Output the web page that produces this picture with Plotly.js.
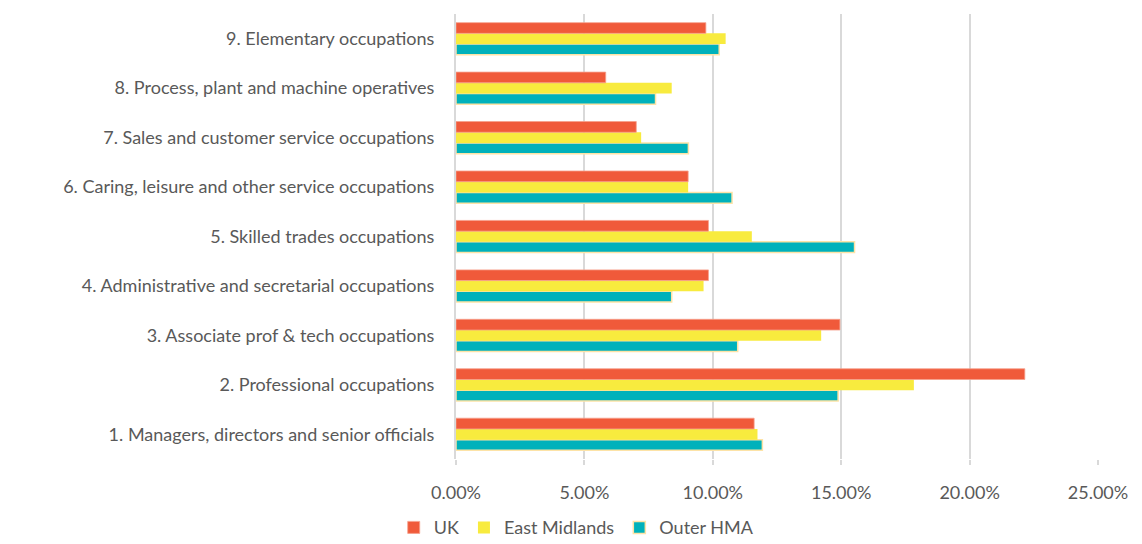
<!DOCTYPE html>
<html>
<head>
<meta charset="utf-8">
<script src="https://cdn.plot.ly/plotly-3.0.1.min.js"></script>
<style>html,body{margin:0;padding:0;background:#fff;}#chart{width:1142px;height:544px;}</style>
</head>
<body>
<div id="chart"></div>
<script>
const categories = [
  "1. Managers, directors and senior officials",
  "2. Professional occupations",
  "3. Associate prof & tech occupations",
  "4. Administrative and secretarial occupations",
  "5. Skilled trades occupations",
  "6. Caring, leisure and other service occupations",
  "7. Sales and customer service occupations",
  "8. Process, plant and machine operatives",
  "9. Elementary occupations"
];
const ukValues = [0.1161, 0.2215, 0.1495, 0.0983, 0.0983, 0.0904, 0.0702, 0.0583, 0.0973];
const eastMidlandsValues = [0.1174, 0.1783, 0.1422, 0.0964, 0.1152, 0.0904, 0.0721, 0.0840, 0.1050];
const outerHmaValues = [0.1193, 0.1488, 0.1097, 0.0840, 0.1552, 0.1075, 0.0905, 0.0777, 0.1025];
const xTickVals = [0, 0.05, 0.10, 0.15, 0.20, 0.25];
const xTickText = ["0.00%", "5.00%", "10.00%", "15.00%", "20.00%", "25.00%"];

const font = "Lato, 'Open Sans', sans-serif";
const traces = [
  {name: "Outer HMA", y: categories, x: outerHmaValues, type: "bar", orientation: "h",
   marker: {color: "#00B1BB", line: {color: "#FDE3A7", width: 1.5}}},
  {name: "East Midlands", y: categories, x: eastMidlandsValues, type: "bar", orientation: "h",
   marker: {color: "#F8EB3E", line: {color: "#F8EB3E", width: 0}}},
  {name: "UK", y: categories, x: ukValues, type: "bar", orientation: "h",
   marker: {color: "#F05A3A", line: {color: "#F6A08C", width: 0.8}}}
];

const layout = {
  width: 1142, height: 544,
  margin: {l: 456, r: 44, t: 14, b: 85, autoexpand: false},
  paper_bgcolor: "#fff", plot_bgcolor: "#fff",
  barmode: "group", bargap: 0.35, bargroupgap: 0,
  showlegend: true,
  legend: {orientation: "h", xref: "container", yref: "container",
    x: 0.505, xanchor: "center", y: 0.03, yanchor: "middle",
    traceorder: "reversed", font: {family: font, size: 18, color: "#595959"},
    itemwidth: 30},
  xaxis: {range: [0, 0.25], tickvals: xTickVals, ticktext: xTickText,
    showgrid: true, gridcolor: "#D9D9D9", gridwidth: 2, zeroline: false,
    ticks: "outside", ticklen: 5, tickcolor: "#D9D9D9", tickwidth: 2,
    ticklabelstandoff: 12,
    tickfont: {family: font, size: 18, color: "#595959"}, showline: false,
    automargin: false, fixedrange: true},
  yaxis: {categoryorder: "array", categoryarray: categories, showgrid: false,
    showline: true, linecolor: "#D9D9D9", linewidth: 2, ticks: "", ticklen: 0,
    ticklabelstandoff: 16,
    tickfont: {family: font, size: 18, color: "#595959"}, automargin: false,
    fixedrange: true}
};

Plotly.newPlot("chart", traces, layout, {displayModeBar: false, staticPlot: true});
</script>
</body>
</html>
